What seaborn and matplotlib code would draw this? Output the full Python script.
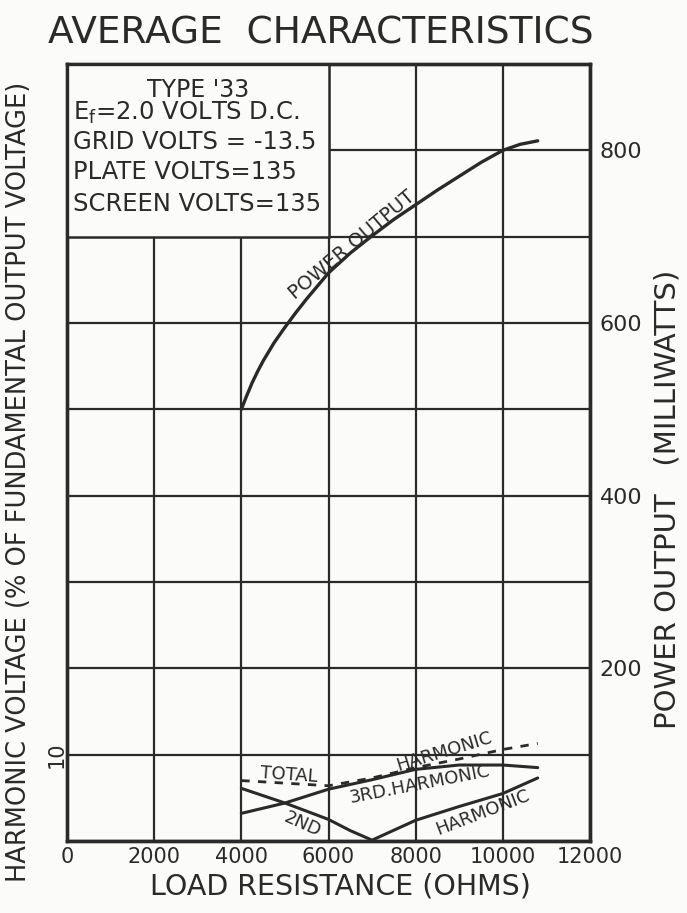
import matplotlib
matplotlib.use("Agg")
import matplotlib.pyplot as plt
import matplotlib.transforms as mtransforms
from matplotlib.patches import Rectangle
import pandas as pd
import seaborn as sns

# valeurs
load_power = [4000, 4125, 4250, 4375, 4500, 4750, 5000, 5250, 5500, 6000, 6500, 7000,
              7500, 8000, 8500, 9000, 9500, 10000, 10400, 10800]
power_mw = [500, 516, 531, 544, 556, 577, 595, 612, 628, 658, 681, 701,
            720, 737, 754, 770, 786, 800, 807, 811]

load_h = [4000, 5000, 6000, 7000, 8000, 9000, 10000, 10800]
total_h = [7.0, 6.7, 6.4, 7.3, 8.5, 9.5, 10.6, 11.3]
third_h = [3.2, 4.4, 6.0, 7.1, 8.3, 8.8, 8.8, 8.5]

load_2nd = [4000, 5000, 6000, 6500, 7000, 8000, 9000, 10000, 10800]
second_h = [6.1, 4.4, 2.5, 1.2, 0.1, 2.4, 4.0, 5.5, 7.3]

x_ticks = [0, 2000, 4000, 6000, 8000, 10000, 12000]
power_ticks = [200, 400, 600, 800]

box_lines = ["TYPE '33", r"E$_\mathregular{f}$=2.0 VOLTS D.C.", "GRID VOLTS = -13.5",
             "PLATE VOLTS=135", "SCREEN VOLTS=135"]

ink = "#2a2a2a"
paper = "#fbfbf9"

sns.set_style("white")
plt.rcParams['font.family'] = ['DejaVu Sans']

fig = plt.figure(figsize=(6.87, 9.13), dpi=100, facecolor=paper)
ax = fig.add_axes([67 / 687, 72 / 913, 523 / 687, 777 / 913])
ax.set_facecolor(paper)
ax2 = ax.twinx()

# courbes harmoniques (axe gauche, %)
df_h = pd.DataFrame({"load": load_h, "total": total_h, "third": third_h})
df_2 = pd.DataFrame({"load": load_2nd, "second": second_h})
sns.lineplot(data=df_h, x="load", y="total", ax=ax, color=ink, lw=2.0,
             linestyle=(0, (3, 3)), zorder=4)
sns.lineplot(data=df_h, x="load", y="third", ax=ax, color=ink, lw=2.2, zorder=4)
sns.lineplot(data=df_2, x="load", y="second", ax=ax, color=ink, lw=2.2, zorder=4)

# puissance (axe droit, mW)
df_p = pd.DataFrame({"load": load_power, "power": power_mw})
sns.lineplot(data=df_p, x="load", y="power", ax=ax2, color=ink, lw=2.4)

ax.set_xlim(0, 12000)
ax.set_ylim(0, 90)
ax2.set_ylim(0, 900)

ax.set_xticks(x_ticks)
ax.set_xticklabels([str(t) for t in x_ticks], fontsize=15, color=ink)
ax.set_yticks(range(0, 100, 10))
ax.set_yticklabels(["" if v != 10 else "10" for v in range(0, 100, 10)],
                   fontsize=15, color=ink, rotation=90, va="center")
ax2.set_yticks(power_ticks)
ax2.set_yticklabels([str(t) for t in power_ticks], fontsize=16, color=ink)
for lbl in ax2.get_yticklabels():
    lbl.set_transform(lbl.get_transform() + mtransforms.ScaledTranslation(0, -5 / 72, fig.dpi_scale_trans))

ax.tick_params(axis="x", length=0, pad=4)
ax.tick_params(axis="y", length=0, pad=0)
ax2.tick_params(axis="y", length=0, pad=7)

ax.grid(True, color=ink, lw=1.6)
ax.set_axisbelow(True)
for a in (ax, ax2):
    for s in a.spines.values():
        s.set_color(ink)
        s.set_linewidth(2.4)

# cadre d'information
ax.add_patch(Rectangle((0, 70), 6000, 20, facecolor=paper, edgecolor=ink, lw=1.8, zorder=3))
ax.text(3000, 87.0, box_lines[0], ha="center", va="center", fontsize=17, color=ink, zorder=5)
for line, y in zip(box_lines[1:], [84.3, 81.0, 77.5, 73.8]):
    ax.text(130, y, line, ha="left", va="center", fontsize=17.5, color=ink, zorder=5)

# étiquettes des courbes
lab = dict(ha="center", va="center", fontsize=13, color=ink, rotation_mode="anchor", zorder=5)
ax2.text(6550, 690, "POWER OUTPUT", rotation=40, **{**lab, "fontsize": 14})
ax.text(5100, 7.7, "TOTAL", rotation=-4, **lab)
ax.text(8650, 10.3, "HARMONIC", rotation=17, **lab)
ax.text(8100, 6.5, "3RD.HARMONIC", rotation=11, **lab)
ax.text(5400, 1.9, "2ND", rotation=-24, **lab)
ax.text(9550, 3.3, "HARMONIC", rotation=21, **lab)

ax.set_xlabel("LOAD RESISTANCE (OHMS)", fontsize=20.5, color=ink, labelpad=5)
ax.xaxis.set_label_coords(0.522, -0.041)
ax.xaxis.label.set_va("top")
ax.set_ylabel("HARMONIC VOLTAGE (% OF FUNDAMENTAL OUTPUT VOLTAGE)", fontsize=18.5, color=ink)
ax.yaxis.set_label_coords(-0.066, 0.462)
ax2.set_ylabel("POWER OUTPUT   (MILLIWATTS)", fontsize=21, color=ink)
ax2.yaxis.set_label_coords(1.122, 0.44)

fig.text(321 / 687, 1 - 33 / 913, "AVERAGE  CHARACTERISTICS", ha="center", va="center",
         fontsize=27, color=ink)

plt.savefig("out.png", dpi=100, facecolor=paper)
